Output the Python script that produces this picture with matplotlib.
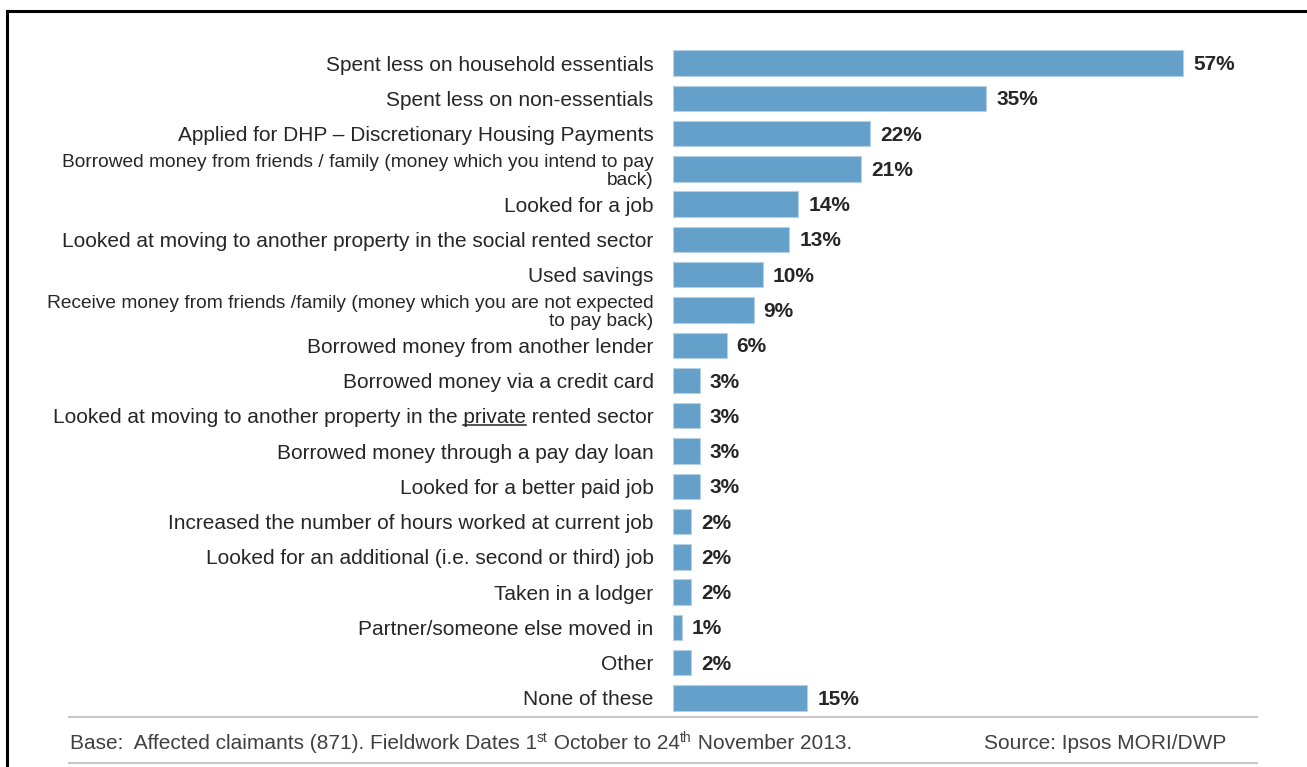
import matplotlib.pyplot as plt
from matplotlib.lines import Line2D

plt.rcParams['font.family'] = ['Liberation Sans', 'DejaVu Sans']

# dados
acoes = [
    'Spent less on household essentials',
    'Spent less on non-essentials',
    'Applied for DHP \u2013 Discretionary Housing Payments',
    'Borrowed money from friends / family (money which you intend to pay\nback)',
    'Looked for a job',
    'Looked at moving to another property in the social rented sector',
    'Used savings',
    'Receive money from friends /family (money which you are not expected\nto pay back)',
    'Borrowed money from another lender',
    'Borrowed money via a credit card',
    'Looked at moving to another property in the private rented sector',
    'Borrowed money through a pay day loan',
    'Looked for a better paid job',
    'Increased the number of hours worked at current job',
    'Looked for an additional (i.e. second or third) job',
    'Taken in a lodger',
    'Partner/someone else moved in',
    'Other',
    'None of these',
]
percentuais = [57, 35, 22, 21, 14, 13, 10, 9, 6, 3, 3, 3, 3, 2, 2, 2, 1, 2, 15]
# rodapé: (texto, é sobrescrito?)
rodape = [('Base:  Affected claimants (871). Fieldwork Dates 1', False), ('st', True),
          (' October to 24', False), ('th', True), (' November 2013.', False)]
fonte = 'Source: Ipsos MORI/DWP'

W, H = 1307, 767
fig = plt.figure(figsize=(W / 100, H / 100), dpi=100)

# eixo: barras começam em x=673px, 1% ~ 8.95px
x0, x1 = 673, 1250
y_top, y_bot = 45.4, 715.6
ax = fig.add_axes([x0 / W, 1 - y_bot / H, (x1 - x0) / W, (y_bot - y_top) / H])

pos = list(range(len(acoes)))
ax.barh(pos, percentuais, height=0.72, color='#64a0c9', edgecolor='#b4d0e4', linewidth=0.8)
ax.set_xlim(0, (x1 - x0) / 8.95)
ax.set_ylim(len(acoes) - 0.5, -0.5)
ax.set_yticks(pos)
ax.set_yticklabels(acoes, fontsize=15, color='#262626')
ax.tick_params(axis='y', length=0, pad=14)
ax.set_xticks([])
for s in ax.spines.values():
    s.set_visible(False)

# rótulos de duas linhas ficam menores
for lbl in ax.get_yticklabels():
    if '\n' in lbl.get_text():
        lbl.set_fontsize(13.8)
        lbl.set_linespacing(1.1)
        lbl.set_x(lbl.get_position()[0])

for p, v in zip(pos, percentuais):
    ax.annotate(f'{v}%', (v, p), xytext=(10, -1.5), textcoords='offset pixels',
                ha='left', va='center', fontsize=15, fontweight='bold', color='#262626')

# moldura preta (só topo e esquerda aparecem)
fig.add_artist(Line2D([7 / W, 1], [1 - 11 / H, 1 - 11 / H], color='black', lw=2.2))
fig.add_artist(Line2D([7 / W, 7 / W], [1 - 11 / H, 0], color='black', lw=2.2))

# linhas do rodapé
for yy in (717, 763):
    fig.add_artist(Line2D([69 / W, 1257 / W], [1 - yy / H, 1 - yy / H], color='#c8c8c8', lw=1.5))

fig.canvas.draw()
r = fig.canvas.get_renderer()

# texto do rodapé em pedaços, com sobrescritos
x = 70
base_y = 1 - 749 / H
for txt, sup in rodape:
    if sup:
        t = fig.text(x / W, base_y + 7.5 / H, txt, fontsize=10, color='#404040', va='baseline')
    else:
        t = fig.text(x / W, base_y, txt, fontsize=15, color='#404040', va='baseline')
    x = t.get_window_extent(r).x1
fig.text(1226 / W, base_y, fonte, fontsize=15, color='#404040', va='baseline', ha='right')

# sublinhado em "private"
def largura(s):
    t = fig.text(0, 0, s, fontsize=15)
    w = t.get_window_extent(r).width
    t.remove()
    return w
lbl = ax.get_yticklabels()[10]
bb = lbl.get_window_extent(r)
fim_private = bb.x1 - largura(' rented sector')
ini_private = fim_private - largura('private')
y_sub = bb.y0 + 2.5
fig.add_artist(Line2D([ini_private / W, fim_private / W], [y_sub / H, y_sub / H],
                      color='#262626', lw=1.1))

fig.savefig('out.png', dpi=100, facecolor='white')
